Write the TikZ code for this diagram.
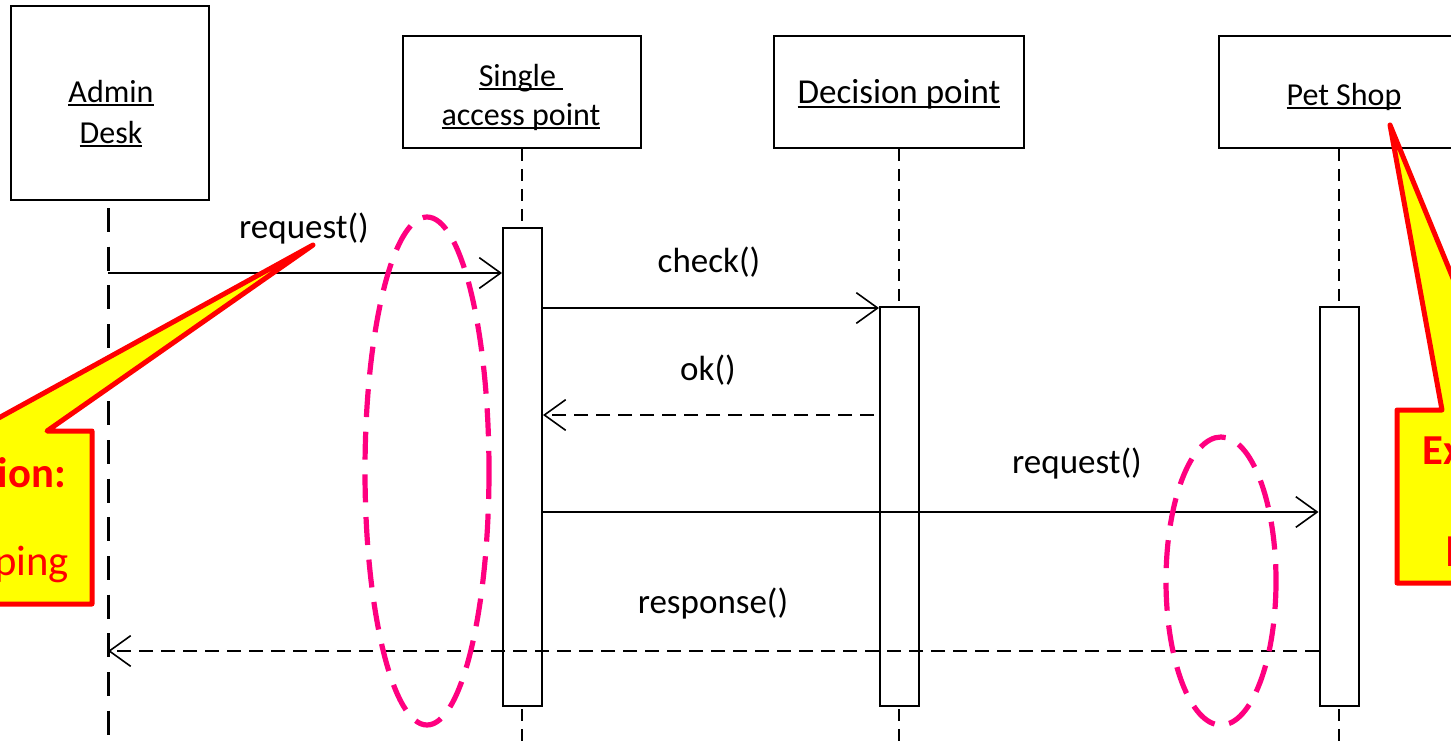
\documentclass[tikz,border=0pt]{standalone}
\usepackage{fontspec}
\setmainfont{Carlito}
\usetikzlibrary{arrows.meta}
\definecolor{noteRed}{RGB}{255,0,0}
\definecolor{noteYellow}{RGB}{255,255,0}
\definecolor{ovalPink}{RGB}{255,0,128}
% word-style underline at a fixed depth below the baseline
\newcommand\ulword[1]{\setbox0\hbox{#1}\rlap{\rule[-0.14em]{\wd0}{0.065em}}\box0}
\begin{document}
\begin{tikzpicture}[x=0.75pt,y=-0.75pt,
  objbox/.style={draw, line width=1.5pt, rectangle, inner sep=0, fill=white},
  actbox/.style={draw, line width=1.5pt, rectangle, inner sep=0, fill=white, minimum width=29.25pt},
  lifeline/.style={line width=1.1pt, dash pattern=on 9pt off 6pt},
  adminline/.style={line width=2.25pt, dash pattern=on 18pt off 11pt},
  msg/.style={line width=1.2pt, -{Straight Barb[length=16pt,width=23pt]}},
  reply/.style={msg, dash pattern=on 10.5pt off 6pt},
  objlbl/.style={font=\fontsize{24}{28}\selectfont, inner sep=0, anchor=base},
  msglbl/.style={font=\fontsize{26.25}{30}\selectfont, inner sep=0, anchor=base},
  oval/.style={draw=ovalPink, line width=3.9pt, dash pattern=on 21pt off 11pt},
  note/.style={draw=noteRed, fill=noteYellow, line width=3.75pt, line join=round},
  notetxt/.style={text=noteRed, font=\fontsize{32}{38}\selectfont, inner sep=0}
]
\useasboundingbox (0,0) rectangle (1451,746);
\clip (0,0) rectangle (1451,746);

% object boxes
\node[objbox, minimum width=148.5pt, minimum height=145.5pt] (admin) at (110,103) {};
\node[objbox, minimum width=178.5pt, minimum height=84pt] (sap) at (522,92) {};
\node[objbox, minimum width=187.5pt, minimum height=84pt] (dec) at (899,92) {};
\node[objbox, minimum width=180pt, minimum height=84pt] (pet) at (1339,92) {};

\node[objlbl] (adminA) at (111,102) {\ulword{Admin}};
\node[objlbl] (adminB) at (111,143) {\ulword{Desk}};
\node[objlbl] (sapA) at (521,86) {\ulword{Single\ }};
\node[objlbl] (sapB) at (521,125) {\ulword{access point}};
\node[msglbl] (decA) at (899,103) {\ulword{Decision point}};
\node[objlbl] (petA) at (1344,105) {\ulword{Pet Shop}};

% lifelines
\coordinate (adminTop) at (108,208);
\coordinate (adminEnd) at (108,746);
\coordinate (sapEnd) at (522,746);
\coordinate (decEnd) at (899,746);
\coordinate (petEnd) at (1339,746);
\draw[adminline] (adminTop) -- (adminEnd);
\draw[lifeline] (sap.south) -- (sapEnd);
\draw[lifeline] (dec.south) -- (decEnd);
\draw[lifeline] (pet.south) -- (petEnd);

% activation bars
\node[actbox, minimum height=358.5pt] (sapAct) at (522.5,467) {};
\node[actbox, minimum height=299.25pt] (decAct) at (899.5,506.5) {};
\node[actbox, minimum height=299.25pt] (petAct) at (1339,506.5) {};

% messages
\coordinate (m1) at (108,273);
\coordinate (m2) at (542,308);
\coordinate (m3) at (874,415);
\coordinate (m4) at (542,512);
\coordinate (m5) at (1319,651);
\draw[msg] (m1) -- (m1 -| sapAct.west);
\draw[msg] (m2) -- (m2 -| decAct.west);
\draw[reply] (m3) -- (m3 -| sapAct.east);
\draw[msg] (m4) -- (m4 -| petAct.west);
\draw[reply] (m5) -- (m5 -| adminEnd);

\node[msglbl] (l1) at (304,238) {request()};
\node[msglbl] (l2) at (709,272) {check()};
\node[msglbl] (l3) at (708,380) {ok()};
\node[msglbl] (l4) at (1077,473) {request()};
\node[msglbl] (l5) at (713,613) {response()};

% highlighted gaps
\draw[oval] (427,471) ellipse [x radius=62, y radius=254];
\draw[oval] (1221,581) ellipse [x radius=55, y radius=144];

% callouts
\draw[note] (313,245) -- (47,431) -- (92,431) -- (92,604) -- (-40,604) -- (-40,431) -- (-25,431) -- cycle;
\node[notetxt, anchor=base east, font=\fontsize{32}{38}\selectfont\bfseries] (n1a) at (66,487) {ion:};
\node[notetxt, anchor=base east] (n1b) at (69,575) {pping};

\draw[note] (1390,125) -- (1442,410) -- (1397,410) -- (1397,583) -- (1530,583) -- (1530,410) -- (1507,410) -- cycle;
\node[notetxt, anchor=base west, font=\fontsize{32}{38}\selectfont\bfseries] (n2a) at (1422,464) {Ex};
\node[notetxt, anchor=base west] (n2b) at (1445,566) {l};
\end{tikzpicture}
\end{document}
